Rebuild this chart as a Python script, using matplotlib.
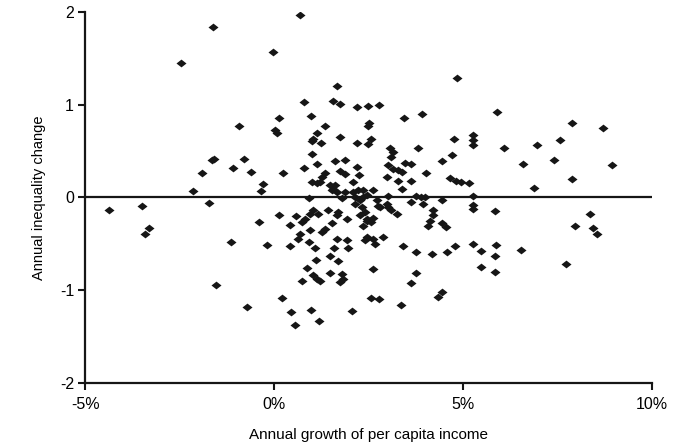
import numpy as np
import matplotlib.pyplot as plt

# growth of per capita income (%), inequality change
growth = [
    -4.37, -3.49, -3.30, -3.41, -2.46, -2.15, -1.90, -1.72, -1.65, -1.58,
    -1.61, -1.54, -1.13, -1.09, -0.92, -0.79, -0.72, -0.62, -0.40, -0.34,
    -0.28, -0.18, -0.02, 0.03, 0.09, 0.12,
    0.70, 4.85, 1.67, 0.80, 1.55, 1.75, 2.20, 2.49, 2.78, 0.99,
    3.91, 3.44, 1.35, 2.51, 2.49, 1.13, 1.04, 1.01, 1.75, 1.24,
    2.58, 2.50, 2.20, 3.07, 3.14, 3.11, 3.80, 4.76, 1.01, 4.72,
    0.25, 0.79, 1.14, 1.61, 1.87, 2.20, 1.76, 1.88, 2.26, 1.35,
    1.26, 1.00, 1.13, 1.22, 2.10, 1.48, 1.61, 1.57, 1.53, 1.66,
    1.88, 2.10, 2.23, 2.36, 2.61, 0.93, 1.79, 2.14, 2.28, 2.36,
    2.45, 3.02, 3.16, 3.29, 3.38, 3.47, 3.64, 4.02, 4.44, 3.00,
    3.29, 3.64, 3.40, 4.66, 4.81, 4.96, 5.17, 3.02, 3.77, 3.88,
    3.99, 4.45,
    5.90, 7.88, 8.71, 5.26, 5.26, 5.26, 6.10, 6.95, 7.56, 6.59,
    7.42, 8.95, 7.90, 6.88, 5.27, 5.26, 5.26, 5.85, 8.36, 7.96,
    8.45, 8.55, 5.26, 5.49, 5.87, 5.86, 6.53, 5.49, 5.85, 7.74,
    4.80,
    0.14, 0.57, 0.42, 0.73, 0.82, 0.95, 1.03, 1.16, 0.69, 0.64,
    0.42, 0.95, 1.26, 1.35, 0.93, 1.08, 1.44, 1.70, 1.66, 1.92,
    1.53, 2.14, 2.32, 2.41, 2.28, 2.45, 2.45, 2.58, 2.63, 2.36,
    1.66, 1.92, 1.60, 1.97, 1.48, 1.10, 1.70, 0.87, 1.48, 1.79,
    1.83, 1.75, 1.04, 1.13, 1.22, 0.73, 2.45, 2.41, 2.63, 2.67,
    2.89, 3.42, 3.77, 4.19, 4.59, 2.63, 3.76, 3.64, 0.21, 0.44,
    0.99, 0.56, 1.20, 2.06, 2.58, 2.78, 3.36, 4.46, 4.35, 2.73,
    2.76, 2.80, 2.98, 3.02, 3.11, 3.25, 3.64, 3.95, 4.21, 4.20,
    4.13, 4.08, 4.44, 4.55,
]
change = [
    -0.14, -0.09, -0.33, -0.40, 1.45, 0.07, 0.26, -0.06, 0.40, 0.41,
    1.84, -0.95, -0.48, 0.32, 0.77, 0.41, -1.18, 0.27, -0.27, 0.07,
    0.14, -0.51, 1.57, 0.73, 0.69, 0.86,
    1.97, 1.29, 1.20, 1.03, 1.04, 1.01, 0.97, 0.99, 1.00, 0.88,
    0.90, 0.86, 0.77, 0.80, 0.77, 0.69, 0.63, 0.61, 0.65, 0.59,
    0.63, 0.58, 0.59, 0.53, 0.49, 0.43, 0.53, 0.63, 0.47, 0.46,
    0.26, 0.32, 0.36, 0.39, 0.40, 0.33, 0.28, 0.25, 0.24, 0.26,
    0.22, 0.17, 0.15, 0.17, 0.17, 0.13, 0.13, 0.09, 0.08, 0.06,
    0.06, 0.06, 0.08, 0.08, 0.08, -0.01, -0.01, 0.00, -0.03, 0.00,
    0.02, 0.35, 0.31, 0.29, 0.27, 0.37, 0.36, 0.26, 0.39, 0.22,
    0.18, 0.18, 0.09, 0.21, 0.18, 0.17, 0.16, 0.01, 0.01, 0.00,
    0.00, -0.03,
    0.92, 0.80, 0.75, 0.67, 0.62, 0.57, 0.53, 0.57, 0.62, 0.36,
    0.40, 0.35, 0.20, 0.10, 0.01, -0.08, -0.13, -0.15, -0.18, -0.31,
    -0.33, -0.39, -0.50, -0.58, -0.51, -0.63, -0.57, -0.75, -0.81, -0.72,
    -0.52,
    -0.19, -0.20, -0.30, -0.27, -0.23, -0.18, -0.14, -0.18, -0.39, -0.45,
    -0.53, -0.35, -0.37, -0.34, -0.48, -0.55, -0.14, -0.16, -0.19, -0.23,
    -0.28, -0.07, -0.10, -0.16, -0.19, -0.23, -0.43, -0.27, -0.22, -0.31,
    -0.45, -0.46, -0.55, -0.55, -0.63, -0.68, -0.69, -0.76, -0.82, -0.83,
    -0.88, -0.91, -0.84, -0.88, -0.90, -0.90, -0.25, -0.46, -0.45, -0.50,
    -0.43, -0.52, -0.59, -0.61, -0.59, -0.77, -0.82, -0.92, -1.09, -1.24,
    -1.21, -1.38, -1.33, -1.23, -1.09, -1.10, -1.16, -1.02, -1.07, -0.03,
    -0.09, -0.10, -0.07, -0.10, -0.14, -0.18, -0.05, -0.07, -0.14, -0.19,
    -0.25, -0.31, -0.28, -0.32,
]

x_ticks = [-5, 0, 5, 10]
x_labels = ['-5%', '0%', '5%', '10%']
y_ticks = [-2, -1, 0, 1, 2]
y_labels = ['-2', '-1', '0', '1', '2']

plt.rcParams['font.family'] = ['Liberation Sans', 'DejaVu Sans']

fig = plt.figure(figsize=(6.81, 4.42), dpi=100)
ax = fig.add_axes([0.125, 0.134, 0.832, 0.839])

# flattened diamond like the original
diamond = [(-1, 0), (0, 0.78), (1, 0), (0, -0.78), (-1, 0)]
ax.scatter(growth, change, marker=diamond, s=52, color='#161616', linewidths=0, zorder=3)

ax.axhline(0, color='#161616', lw=1.6, zorder=2)

ax.set_xlim(-5, 10)
ax.set_ylim(-2, 2)
ax.set_xticks(x_ticks)
ax.set_xticklabels(x_labels, fontsize=11.5)
ax.set_yticks(y_ticks)
ax.set_yticklabels(y_labels, fontsize=11.5)
ax.tick_params(direction='out', length=5, width=1.5, color='#161616')
ax.tick_params(axis='x', pad=5)
ax.tick_params(axis='y', pad=3)

for side in ['top', 'right']:
    ax.spines[side].set_visible(False)
for side in ['left', 'bottom']:
    ax.spines[side].set_linewidth(1.6)
    ax.spines[side].set_color('#161616')

ax.set_xlabel('Annual growth of per capita income', fontsize=11, labelpad=12)
ax.set_ylabel('Annual inequality change', fontsize=10.5, labelpad=10)

fig.savefig('out.png', dpi=100)
